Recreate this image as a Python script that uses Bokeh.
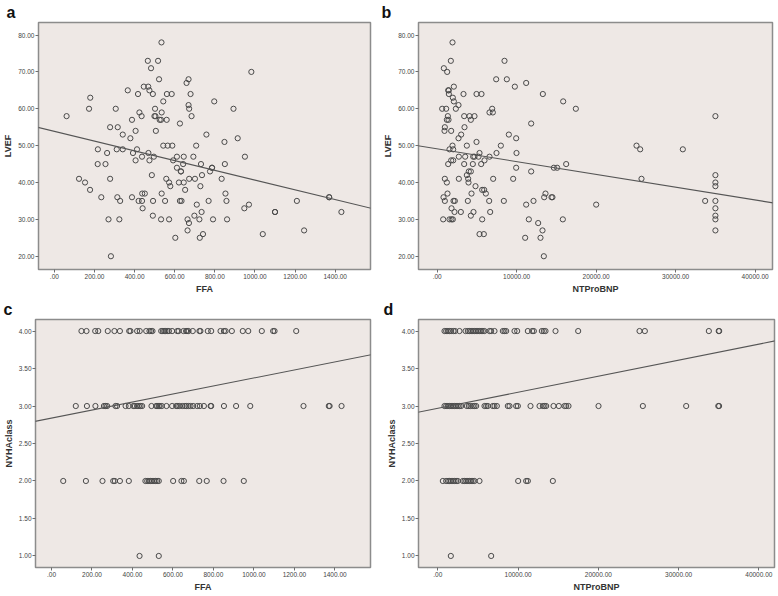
from bokeh.plotting import figure
from bokeh.layouts import column, row
from bokeh.models import FixedTicker, Slope, Range1d
from bokeh.embed import file_html
from bokeh.resources import INLINE

FONT = "Liberation Sans"
BG = "#EEE8E5"
MARK = "#4a4a4a"

# ---------------- data ----------------
# panel a: FFA vs LVEF
ffa_a = [61, 123, 153, 173, 179, 178, 217, 216, 234, 255,
         263, 270, 278, 278, 282, 306, 311, 314, 316, 324,
         328, 341, 341, 366, 379, 387, 387, 392, 405, 405,
         412, 417, 420, 424, 435, 437, 437, 440, 438, 446,
         451, 466, 468, 469, 474, 474, 482, 486, 491, 492,
         491, 496, 499, 504, 502, 506, 517, 522, 525, 532,
         532, 534, 535, 535, 543, 543, 552, 558, 560, 561,
         565, 572, 572, 578, 585, 588, 592, 603, 611, 611,
         621, 626, 626, 631, 631, 634, 642, 645, 645, 652,
         659, 664, 664, 669, 669, 672, 671, 672, 679, 684,
         693, 698, 701, 707, 710, 723, 725, 728, 731, 734,
         736, 741, 758, 769, 776, 786, 786, 791, 797, 834,
         848, 850, 853, 858, 861, 893, 914, 947, 950, 970,
         982, 1039, 1100, 1100, 1209, 1245, 1370, 1370, 1431]
lvef_a = [58, 41, 40, 60, 63, 38, 49, 45, 36, 45,
          48, 30, 55, 41, 20, 60, 49, 36, 55, 30,
          35, 53, 49, 65, 52, 36, 57, 48, 46, 54,
          49, 64, 35, 59, 58, 35, 47, 33, 37, 66,
          37, 73, 66, 48, 46, 65, 71, 42, 64, 35,
          31, 47, 58, 58, 60, 54, 73, 68, 57, 57,
          30, 78, 59, 37, 62, 50, 35, 41, 57, 64,
          50, 30, 40, 39, 64, 50, 46, 25, 44, 47,
          40, 56, 35, 43, 43, 35, 45, 47, 40, 38,
          67, 27, 30, 68, 61, 60, 29, 41, 64, 58,
          47, 31, 41, 50, 34, 30, 25, 39, 45, 32,
          42, 26, 53, 35, 43, 44, 44, 30, 62, 41,
          51, 45, 37, 35, 30, 60, 52, 33, 47, 34,
          70, 26, 32, 32, 35, 27, 36, 36, 32]

# panel b: NTProBNP vs LVEF
bnp_b = [1929, 1719, 839, 1258, 1384, 1468, 1468, 2097, 1971, 2097,
         2684, 2348, 629, 1132, 1342, 1216, 1426, 964, 922, 1761,
         2684, 3019, 3312, 3396, 3438, 4067, 4235, 4696, 4948, 5577,
         4948, 3732, 1929, 1551, 2013, 2726, 1384, 1761, 2013, 3522,
         3396, 4528, 4696, 5200, 5326, 4486, 5535, 5954, 6583, 3732,
         3983, 4235, 3900, 3941, 2726, 964, 1216, 797, 964, 1300,
         1803, 2055, 2222, 2180, 2977, 755, 1551, 1803, 1971, 3858,
         4319, 4235, 4570, 4822, 5660, 5912, 6122, 5660, 5326, 5870,
         6541, 6667, 7044, 6583, 6919, 7002, 7422, 7463, 8009, 8386,
         8470, 8763, 9015, 9560, 9770, 9937, 9979, 9937, 11195, 11195,
         11069, 11530, 11824, 11824, 12118, 12705, 12998, 13250, 13292, 13459,
         13627, 13418, 14382, 14500, 14676, 15095, 15850, 15808, 16227, 17443,
         20001, 25075, 25536, 25703, 30903, 33712, 35000, 35000, 35000, 35000,
         35000, 35000, 35000, 35000, 35000]
lvef_b = [78, 73, 71, 70, 65, 65, 64, 66, 63, 62,
          61, 60, 60, 60, 58, 57, 57, 55, 54, 54,
          52, 53, 64, 58, 55, 58, 57, 58, 64, 64,
          51, 50, 50, 49, 49, 47, 45, 46, 46, 47,
          45, 47, 47, 47, 48, 45, 45, 46, 47, 42,
          43, 43, 41, 40, 41, 41, 40, 36, 35, 37,
          33, 35, 35, 32, 32, 30, 30, 30, 30, 35,
          37, 31, 32, 39, 38, 38, 37, 30, 26, 26,
          35, 32, 41, 59, 60, 59, 68, 48, 50, 35,
          73, 68, 53, 41, 66, 52, 48, 44, 67, 34,
          25, 30, 56, 43, 35, 29, 25, 27, 64, 36,
          37, 20, 36, 36, 44, 44, 62, 30, 45, 60,
          34, 50, 49, 41, 49, 35, 58, 42, 40, 39,
          35, 33, 31, 30, 27]

# panel c: FFA grouped by NYHA class
ffa_nyha4 = [148, 173, 216, 231, 278, 311, 338, 384, 390, 423, 436, 468, 484, 492,
             499, 542, 550, 557, 563, 572, 580, 596, 621, 628, 652, 665, 670, 677,
             698, 731, 736, 772, 789, 835, 852, 860, 891, 945, 972, 1039, 1095,
             1102, 1209]
ffa_nyha3 = [120, 175, 217, 259, 267, 275, 316, 324, 366, 382, 404, 412, 423, 432,
             440, 448, 494, 517, 522, 530, 535, 545, 568, 596, 616, 624, 632, 646,
             659, 667, 677, 687, 700, 720, 733, 753, 786, 789, 852, 912, 982, 1245,
             1370, 1374, 1433]
ffa_nyha2 = [58, 170, 252, 305, 313, 338, 382, 464, 473, 481, 489, 497, 506, 514,
             522, 530, 601, 642, 654, 730, 767, 850, 950]
ffa_nyha1 = [435, 530]

# panel d: NTProBNP grouped by NYHA class
bnp_nyha4 = [831, 1039, 1246, 1454, 1662, 1952, 2160, 2700, 3448, 3739, 3946, 4154,
             4362, 4569, 4777, 4985, 5193, 5400, 5608, 5816, 6439, 6646, 7062, 8100,
             8308, 8516, 9554, 9887, 11216, 11756, 11964, 12961, 13210, 13418, 14664,
             17489, 25132, 25797, 33772, 35000, 35060]
bnp_nyha3 = [831, 1039, 1246, 1454, 1662, 1869, 2077, 2285, 2492, 2700, 2908, 3614,
             3863, 4071, 4362, 4569, 4777, 5816, 6023, 6231, 6854, 7062, 7353, 8723,
             8931, 9762, 9970, 11548, 12670, 13085, 13293, 13501, 14415, 15079, 15785,
             15993, 16284, 20023, 25547, 30948, 34950, 35050]
bnp_nyha2 = [623, 1039, 1288, 1454, 1662, 1869, 2077, 2285, 2492, 3116, 3323, 3531,
             3739, 3946, 4154, 4362, 4569, 5193, 10011, 11008, 11216, 14331]
bnp_nyha1 = [1620, 6646]
nyha_levels = [4, 3, 2, 1]

# fit lines: intercept, slope
fit_a = (53.86, -0.013215)
fit_b = (49.14, -0.000347)
fit_c = (2.838, 0.000536)
fit_d = (2.969, 0.0000214)

# ticks
ffa_ticks = [0, 200, 400, 600, 800, 1000, 1200, 1400]
ffa_labels = [".00", "200.00", "400.00", "600.00", "800.00", "1000.00", "1200.00", "1400.00"]
bnp_ticks = [0, 10000, 20000, 30000, 40000]
bnp_labels = [".00", "10000.00", "20000.00", "30000.00", "40000.00"]
lvef_ticks = [20, 30, 40, 50, 60, 70, 80]
lvef_labels = ["20.00", "30.00", "40.00", "50.00", "60.00", "70.00", "80.00"]
nyha_ticks = [1.0, 1.5, 2.0, 2.5, 3.0, 3.5, 4.0]
nyha_labels = ["1.00", "1.50", "2.00", "2.50", "3.00", "3.50", "4.00"]


def make_fig(letter, xr, yr, xt, xl, yt, yl, xtitle, ytitle,
             width, height, bl, br, bt, bb, toff):
    p = figure(width=width, height=height,
               x_range=Range1d(*xr), y_range=Range1d(*yr),
               output_backend="svg", toolbar_location=None, tools="",
               min_border_left=bl, min_border_right=br,
               min_border_top=bt, min_border_bottom=bb)
    p.background_fill_color = BG
    p.border_fill_color = "white"
    p.outline_line_color = "#8c8c8c"
    p.outline_line_width = 1.5
    p.grid.visible = False

    p.xaxis.ticker = FixedTicker(ticks=xt)
    p.xaxis.major_label_overrides = {t: s for t, s in zip(xt, xl)}
    p.yaxis.ticker = FixedTicker(ticks=yt)
    p.yaxis.major_label_overrides = {t: s for t, s in zip(yt, yl)}
    p.xaxis.axis_label = xtitle
    p.yaxis.axis_label = ytitle
    for ax in (p.xaxis[0], p.yaxis[0]):
        ax.axis_line_color = None
        ax.major_tick_out = 3
        ax.major_tick_in = 0
        ax.major_tick_line_color = "#6e6e6e"
        ax.minor_tick_line_color = None
        ax.major_label_text_font = FONT
        ax.major_label_text_font_size = "6.5px"
        ax.major_label_text_color = "#444444"
        ax.major_label_standoff = 1
        ax.axis_label_text_font = FONT
        ax.axis_label_text_font_size = "9px"
        ax.axis_label_text_font_style = "bold"
        ax.axis_label_text_color = "#333333"
        ax.axis_label_standoff = 2

    p.title.text = letter
    p.title.text_font = FONT
    p.title.text_font_size = "16px"
    p.title.text_font_style = "bold"
    p.title.text_color = "#111111"
    p.title.align = "left"
    p.title.offset = toff
    p.title.standoff = 3
    return p


def add_points(p, xs, ys):
    p.scatter(xs, ys, marker="circle", size=5.2, fill_color=None,
              line_color=MARK, line_width=1)


def add_fit(p, fit):
    p.add_layout(Slope(gradient=fit[1], y_intercept=fit[0],
                       line_color="#555555", line_width=1.1))


ffa_range = (-79, 1576)
lvef_range = (16.4, 83.4)
nyha_range = (0.846, 4.154)

pa = make_fig("a", ffa_range, lvef_range, ffa_ticks, ffa_labels,
              lvef_ticks, lvef_labels, "FFA", "LVEF",
              380, 296, 35, 10, 21, 24, -32)
add_points(pa, ffa_a, lvef_a)
add_fit(pa, fit_a)

pb = make_fig("b", (-2349, 42182), lvef_range, bnp_ticks, bnp_labels,
              lvef_ticks, lvef_labels, "NTProBNP", "LVEF",
              396, 296, 38, 4, 21, 24, -37)
add_points(pb, bnp_b, lvef_b)
add_fit(pb, fit_b)

pc = make_fig("c", ffa_range, nyha_range, ffa_ticks, ffa_labels,
              nyha_ticks, nyha_labels, "FFA", "NYHAclass",
              380, 298, 35, 10, 23, 25, -32)
for lvl, xs in zip(nyha_levels, [ffa_nyha4, ffa_nyha3, ffa_nyha2, ffa_nyha1]):
    add_points(pc, xs, [lvl] * len(xs))
add_fit(pc, fit_c)

pd_ = make_fig("d", (-2409, 41953), nyha_range, bnp_ticks, bnp_labels,
               nyha_ticks, nyha_labels, "NTProBNP", "NYHAclass",
               396, 298, 38, 2, 23, 25, -35)
for lvl, xs in zip(nyha_levels, [bnp_nyha4, bnp_nyha3, bnp_nyha2, bnp_nyha1]):
    add_points(pd_, xs, [lvl] * len(xs))
add_fit(pd_, fit_d)

layout = column(row(pa, pb), row(pc, pd_))

with open("out.html", "w") as f:
    f.write(file_html(layout, INLINE))
